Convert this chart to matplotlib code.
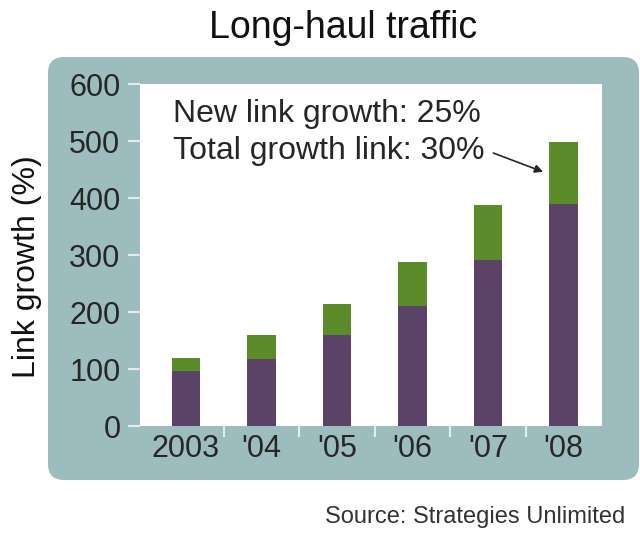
import matplotlib
matplotlib.use('Agg')
import matplotlib.pyplot as plt
from matplotlib.patches import FancyBboxPatch
import numpy as np

plt.rcParams['font.family'] = ['Liberation Sans', 'DejaVu Sans']

years = ['2003', "'04", "'05", "'06", "'07", "'08"]
existing = [96, 118, 160, 210, 291, 390]
total = [120, 159, 214, 288, 388, 498]
added = [t - e for t, e in zip(total, existing)]
yticks = [0, 100, 200, 300, 400, 500, 600]

teal = '#9DBCBE'
purple = '#5B4368'
green = '#5C8B2A'
tick_col = '#E2ECEC'
text_col = '#262626'

fig = plt.figure(figsize=(6.4, 5.34), dpi=100)

# rounded teal panel behind the plot (inches)
box = FancyBboxPatch((0.48, 0.54), 5.91, 4.23,
                     boxstyle='round,pad=0,rounding_size=0.16',
                     transform=fig.dpi_scale_trans, facecolor=teal,
                     edgecolor='none', zorder=-1)
fig.patches.append(box)

ax = fig.add_axes([0.21875, 0.2022, 0.7219, 0.6404])
ax.set_facecolor('white')

x = np.arange(len(years))
ax.bar(x, existing, width=0.38, color=purple, zorder=2)
ax.bar(x, added, bottom=existing, width=0.38, color=green, zorder=2)

ax.set_xlim(-0.61, 5.51)
ax.set_ylim(0, 600)

for s in ax.spines.values():
    s.set_visible(False)

ax.set_yticks(yticks)
ax.tick_params(axis='y', direction='out', length=8.6, width=1.5,
               color=tick_col, labelsize=22, labelcolor=text_col, pad=5.5)

# ticks between categories, labels at bar centres
ax.set_xticks(x[:-1] + 0.5)
ax.set_xticklabels([])
ax.set_xticks(x, minor=True)
ax.set_xticklabels(years, minor=True)
ax.tick_params(axis='x', which='major', direction='out', length=8,
               width=1.5, color=tick_col)
ax.tick_params(axis='x', which='minor', length=0, labelsize=22,
               labelcolor=text_col, pad=6)

ax.text(-0.17, 534, 'New link growth: 25%', fontsize=23, color=text_col,
        va='baseline', ha='left')
ax.text(-0.17, 468, 'Total growth link: 30%', fontsize=23, color=text_col,
        va='baseline', ha='left')
ax.annotate('', xy=(4.73, 446), xytext=(4.07, 479),
            arrowprops=dict(arrowstyle='-|>', color=text_col, lw=1.2,
                            mutation_scale=12, shrinkA=0, shrinkB=0))

fig.text(0.536, 0.929, 'Long-haul traffic', fontsize=27, color='#111111',
         ha='center', va='baseline')
fig.text(0.042, 0.5, 'Link growth (%)', fontsize=23, color='#111111',
         rotation=90, ha='center', va='center')
fig.text(0.977, 0.0206, 'Source: Strategies Unlimited', fontsize=17,
         color='#333333', ha='right', va='baseline')

fig.savefig('out.png', dpi=100)
